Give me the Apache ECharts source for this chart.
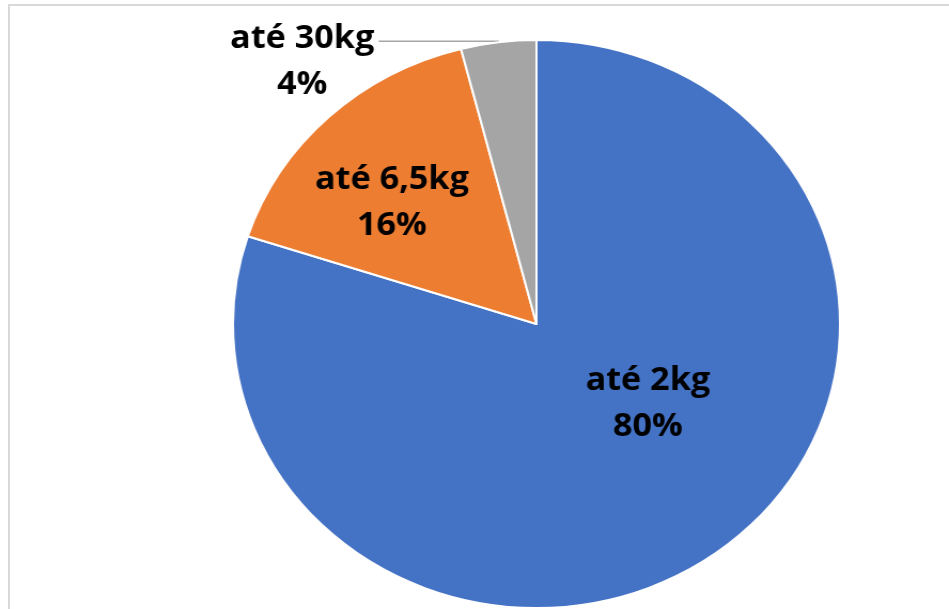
<!DOCTYPE html>
<html>
<head>
<meta charset="utf-8">
<script src="https://cdn.jsdelivr.net/npm/echarts@6/dist/echarts.min.js"></script>
<style>
    html, body { margin: 0; padding: 0; background: #fff; overflow: hidden; }
    #frame {
        position: absolute; left: 8px; top: 4px; right: -10px; bottom: -10px;
        border-left: 2px solid #d9d9d9; border-top: 2px solid #d9d9d9;
    }
    /* the source picture is stretched a little wider than tall */
    #chart {
        position: absolute; left: 0; top: 0; width: 888px; height: 609px;
        transform: scaleX(1.0687); transform-origin: 0 0;
    }
</style>
</head>
<body>
<div id="frame"></div>
<div id="chart"></div>
<script>
    const categories = ['até 2kg', 'até 6,5kg', 'até 30kg'];
    const shares = [80, 16, 4];
    const colors = ['#4472C4', '#ED7D31', '#A5A5A5'];

    // nudges for the labels that sit inside their slices
    const labelShift = [[19, -37], [-36, -15], [0, 0]];

    let chart = echarts.init(document.getElementById('chart'));

    const labelFont = {
        fontFamily: '"Open Sans", sans-serif',
        fontWeight: 'bold',
        fontSize: 32,
        lineHeight: 46,
        color: '#000'
    };

    let pieData = [];
    for (let i = 0; i < categories.length; i++) {
        let item = {
            name: categories[i],
            value: shares[i],
            itemStyle: { color: colors[i] }
        };
        if (i == 2) {
            item.label = {
                position: 'outside',
                formatter: '{c|{b}}\n{c|{d}%}',
                padding: [42, 0, 0, 0],
                distanceToLabelLine: 4,
                rich: {
                    c: Object.assign({ align: 'center' }, labelFont)
                }
            };
            item.labelLine = {
                show: true,
                length: 1,
                length2: 112,
                lineStyle: { color: '#a6a6a6', width: 1.5 }
            };
        } else {
            item.label = { position: 'inside' };
            item.labelLine = { show: false };
        }
        pieData.push(item);
    }

    let option = {
        animation: false,
        series: [{
            type: 'pie',
            center: [502, 324],
            radius: 284,
            startAngle: 90,
            clockwise: true,
            percentPrecision: 0,
            avoidLabelOverlap: false,
            itemStyle: { borderColor: '#fff', borderWidth: 2 },
            label: Object.assign({
                show: true,
                formatter: '{b}\n{d}%'
            }, labelFont),
            labelLayout: function (params) {
                let s = labelShift[params.dataIndex];
                if (params.dataIndex == 2) return {};
                return { dx: s[0], dy: s[1] };
            },
            data: pieData
        }]
    };

    option && chart.setOption(option);
</script>
</body>
</html>
